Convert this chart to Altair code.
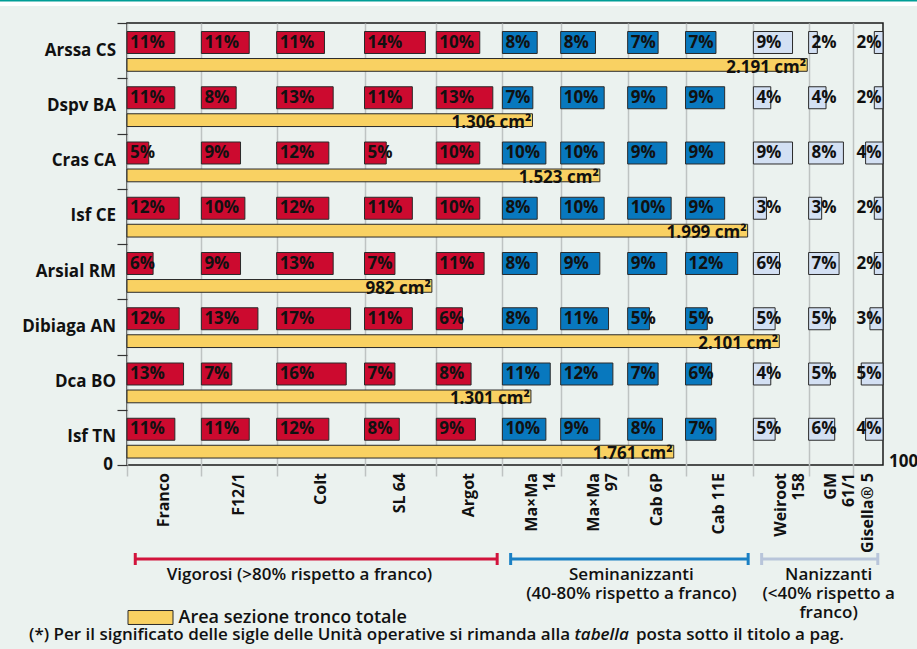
import altair as alt
import pandas as pd

# ---- data -------------------------------------------------------------
sites = ["Arssa CS", "Dspv BA", "Cras CA", "Isf CE",
         "Arsial RM", "Dibiaga AN", "Dca BO", "Isf TN"]

rootstocks = ["Franco", "F12/1", "Colt", "SL 64", "Argot",
              "Ma×Ma\n14", "Ma×Ma\n97", "Cab 6P", "Cab 11E",
              "Weiroot\n158", "GM\n61/1", "Gisella® 5"]

vigour_class = ["Vigorosi"] * 5 + ["Seminanizzanti"] * 4 + ["Nanizzanti"] * 3

# share (%) of each rootstock, one list per site
pct_arssa_cs = [11, 11, 11, 14, 10, 8, 8, 7, 7, 9, 2, 2]
pct_dspv_ba = [11, 8, 13, 11, 13, 7, 10, 9, 9, 4, 4, 2]
pct_cras_ca = [5, 9, 12, 5, 10, 10, 10, 9, 9, 9, 8, 4]
pct_isf_ce = [12, 10, 12, 11, 10, 8, 10, 10, 9, 3, 3, 2]
pct_arsial_rm = [6, 9, 13, 7, 11, 8, 9, 9, 12, 6, 7, 2]
pct_dibiaga_an = [12, 13, 17, 11, 6, 8, 11, 5, 5, 5, 5, 3]
pct_dca_bo = [13, 7, 16, 7, 8, 11, 12, 7, 6, 4, 5, 5]
pct_isf_tn = [11, 11, 12, 8, 9, 10, 9, 8, 7, 5, 6, 4]

# total trunk cross-sectional area per site (cm²)
area_cm2 = [2191, 1306, 1523, 1999, 982, 2101, 1301, 1761]

group_names = ["Vigorosi", "Seminanizzanti", "Nanizzanti"]
group_labels = ["Vigorosi (>80% rispetto a franco)",
                "Seminanizzanti\n(40-80% rispetto a franco)",
                "Nanizzanti\n(<40% rispetto a\nfranco)"]
legend_label = "Area sezione tronco totale"
note_parts = ["(*) Per il significato delle sigle delle Unità operative si rimanda alla",
              "tabella", "posta sotto il titolo a pag."]
scale_ends = ["0", "100"]

# ---- layout & style ---------------------------------------------------
PLOT_W, PLOT_H = 756, 442
FONT = "Open Sans"
COL_WIDTHS = [17.1, 17.3, 20.2, 16.5, 15.2, 13.4, 15.4, 13.3, 15.6, 12.7, 10.3, 6.8]
X_MAX = sum(COL_WIDTHS)
AREA_MAX = 2435
BAR_TOP, BAR_BOT = 0.154, 0.552
AREA_TOP, AREA_BOT = 0.643, 0.874
GROUP_COLORS = {"Vigorosi": "#CC0A2F", "Seminanizzanti": "#0878BE",
                "Nanizzanti": "#D3E0F3"}
BRACKET_COLORS = {"Vigorosi": "#D2143C", "Seminanizzanti": "#1A80C4",
                  "Nanizzanti": "#B8C5DA"}
GROUP_LABEL_SHIFT = {"Vigorosi": -3.5, "Seminanizzanti": 0.8, "Nanizzanti": 2.4}
YELLOW = "#F9D162"
INK = "#111111"

edges = [0.0]
for w in COL_WIDTHS:
    edges.append(edges[-1] + w)

rows = [pct_arssa_cs, pct_dspv_ba, pct_cras_ca, pct_isf_ce,
        pct_arsial_rm, pct_dibiaga_an, pct_dca_bo, pct_isf_tn]

cells = []
for i, site in enumerate(sites):
    for j, v in enumerate(rows[i]):
        last = j == len(rootstocks) - 1
        x0 = edges[j + 1] - v if last else edges[j]
        cells.append({
            "site": site, "rootstock": rootstocks[j], "pct": v,
            "x0": x0, "x1": x0 + v, "lx": edges[j],
            "y0": i + BAR_TOP, "y1": i + BAR_BOT,
            "ly": i + (BAR_TOP + BAR_BOT) / 2,
            "fill": GROUP_COLORS[vigour_class[j]],
            "label": f"{v}%",
        })
cells = pd.DataFrame(cells)

areas = pd.DataFrame({
    "site": sites,
    "area": area_cm2,
    "zero": 0,
    "y0": [i + AREA_TOP for i in range(len(sites))],
    "y1": [i + AREA_BOT for i in range(len(sites))],
    "ly": [i + 0.9 for i in range(len(sites))],
    "label": [f"{a:,}".replace(",", ".") + " cm²" for a in area_cm2],
    "serie": legend_label,
})

site_df = pd.DataFrame({"site": sites,
                        "yc": [i + 0.5 for i in range(len(sites))]})

col_df = pd.DataFrame({"rootstock": rootstocks,
                       "xc": [(edges[j] + edges[j + 1]) / 2 for j in range(len(rootstocks))]})

grp_rows, cap_rows, glab_rows = [], [], []
for g, lab in zip(group_names, group_labels):
    idx = [j for j, c in enumerate(vigour_class) if c == g]
    a, b = edges[idx[0]] + 1.9, edges[idx[-1] + 1] - 1.2
    grp_rows.append({"g": g, "a": a, "b": b, "color": BRACKET_COLORS[g]})
    cap_rows += [{"g": g, "x": a, "color": BRACKET_COLORS[g]},
                 {"g": g, "x": b, "color": BRACKET_COLORS[g]}]
    glab_rows.append({"g": g, "label": lab,
                      "xc": (edges[idx[0]] + edges[idx[-1] + 1]) / 2 + GROUP_LABEL_SHIFT[g]})
grp_df = pd.DataFrame(grp_rows)
cap_df = pd.DataFrame(cap_rows)
glab_df = pd.DataFrame(glab_rows)

# ---- scales & axes ------------------------------------------------------
XS = alt.Scale(domain=[0, X_MAX], nice=False, zero=False)
AS = alt.Scale(domain=[0, AREA_MAX], nice=False, zero=False)
YS = alt.Scale(domain=[0, len(sites)], reverse=True, nice=False, zero=False)

x_axis = alt.Axis(values=edges[:-1], grid=True, gridColor="#BEC3C2", gridWidth=1.5,
                  ticks=True, tickColor="#BEC3C2", tickWidth=1.5, tickSize=11,
                  labels=False, domain=False, title=None)
# one shared left axis: a tick at every row boundary, no labels
y_axis = alt.Axis(values=list(range(len(sites) + 1)), labels=False,
                  ticks=True, tickSize=10, tickColor="#333333", tickWidth=1.2,
                  domain=False, grid=False, title=None)


def Y(field):
    return alt.Y(field, scale=YS, axis=y_axis)


# ---- layers -------------------------------------------------------------
pct_bars = alt.Chart(cells).mark_rect(stroke="#2a2a2a", strokeWidth=1).encode(
    x=alt.X("x0:Q", scale=XS, axis=x_axis),
    x2="x1:Q",
    y=Y("y0:Q"),
    y2="y1:Q",
    fill=alt.Fill("fill:N", scale=None),
)

pct_text = alt.Chart(cells).mark_text(
    align="left", baseline="middle", dx=3, font=FONT, fontSize=17,
    fontWeight=700, color=INK,
).encode(
    x=alt.X("lx:Q", scale=XS, axis=None),
    y=Y("ly:Q"),
    text="label:N",
)

area_bars = alt.Chart(areas).mark_rect(stroke="#2a2a2a", strokeWidth=1).encode(
    x=alt.X("zero:Q", scale=AS, axis=None),
    x2="area:Q",
    y=Y("y0:Q"),
    y2="y1:Q",
    color=alt.Color("serie:N",
                    scale=alt.Scale(domain=[legend_label], range=[YELLOW]),
                    legend=alt.Legend(
                        title=None, orient="none", legendX=0.5, legendY=571.5,
                        symbolType="M-1,-0.31L1,-0.31L1,0.31L-1,0.31Z",
                        symbolSize=2025, symbolStrokeColor="#2a2a2a",
                        symbolStrokeWidth=1, symbolOpacity=1,
                        labelFont=FONT, labelFontSize=18, labelFontWeight=600,
                        labelColor=INK, labelOffset=5, labelLimit=0, padding=0)),
)

area_text = alt.Chart(areas).mark_text(
    align="right", baseline="alphabetic", dx=-1, font=FONT, fontSize=17,
    fontWeight=700, color=INK,
).encode(
    x=alt.X("area:Q", scale=AS, axis=None),
    y=Y("ly:Q"),
    text="label:N",
)

site_text = alt.Chart(site_df).mark_text(
    align="right", baseline="middle", font=FONT, fontSize=17,
    fontWeight=700, color=INK,
).encode(
    x=alt.value(-11),
    y=Y("yc:Q"),
    text="site:N",
)

col_text = alt.Chart(col_df).mark_text(
    align="right", baseline="middle", angle=270, font=FONT, fontSize=16,
    fontWeight=700, color=INK, lineBreak="\n", lineHeight=18,
).encode(
    x=alt.X("xc:Q", scale=XS, axis=None),
    y=alt.value(PLOT_H + 8),
    text="rootstock:N",
)

# end labels of the baseline: 0 on the left axis, 100 past the right frame
zero_label = alt.Chart(pd.DataFrame({"t": [scale_ends[0]], "y": [len(sites)]})).mark_text(
    align="right", baseline="middle", font=FONT, fontSize=17, fontWeight=700,
    color=INK,
).encode(x=alt.value(-14), y=Y("y:Q"), text="t:N")

hundred = alt.Chart(pd.DataFrame({"t": [scale_ends[1]]})).mark_text(
    align="left", baseline="middle", font=FONT, fontSize=17, fontWeight=700,
    color=INK,
).encode(x=alt.value(PLOT_W + 6), y=alt.value(PLOT_H - 3), text="t:N")

brackets = alt.Chart(grp_df).mark_rule(strokeWidth=3).encode(
    x=alt.X("a:Q", scale=XS, axis=None),
    x2="b:Q",
    y=alt.value(536),
    color=alt.Color("color:N", scale=None),
)

caps = alt.Chart(cap_df).mark_rule(strokeWidth=3).encode(
    x=alt.X("x:Q", scale=XS, axis=None),
    y=alt.value(530),
    y2=alt.value(542),
    color=alt.Color("color:N", scale=None),
)

group_text = alt.Chart(glab_df).mark_text(
    align="center", baseline="top", font=FONT, fontSize=17, fontWeight=600,
    color=INK, lineBreak="\n", lineHeight=19,
).encode(
    x=alt.X("xc:Q", scale=XS, axis=None),
    y=alt.value(544),
    text="label:N",
)

# footnote in three runs, the middle one in italics
note_y = 612
note_a = alt.Chart(pd.DataFrame({"t": [note_parts[0]]})).mark_text(
    align="right", baseline="middle", font=FONT, fontSize=17, fontWeight=600, color=INK,
).encode(x=alt.value(443), y=alt.value(note_y), text="t:N")
note_b = alt.Chart(pd.DataFrame({"t": [note_parts[1]]})).mark_text(
    align="left", baseline="middle", font=FONT, fontSize=17, fontWeight=600,
    fontStyle="italic", color=INK,
).encode(x=alt.value(447.5), y=alt.value(note_y), text="t:N")
note_c = alt.Chart(pd.DataFrame({"t": [note_parts[2]]})).mark_text(
    align="left", baseline="middle", font=FONT, fontSize=17, fontWeight=600, color=INK,
).encode(x=alt.value(509), y=alt.value(note_y), text="t:N")

# page header: teal rule over a white strip
header_strip = alt.Chart(pd.DataFrame({"k": [0]})).mark_rect(color="white").encode(
    x=alt.value(-127), x2=alt.value(PLOT_W + 34), y=alt.value(-22), y2=alt.value(-17))
header_rule = alt.Chart(pd.DataFrame({"k": [0]})).mark_rule(color="#009E96", strokeWidth=2).encode(
    x=alt.value(-127), x2=alt.value(PLOT_W + 34), y=alt.value(-22.5))

chart = alt.layer(
    header_strip, header_rule,
    pct_bars, area_bars, pct_text, area_text, site_text, col_text,
    zero_label, hundred, brackets, caps, group_text, note_a, note_b, note_c,
).resolve_scale(x="independent").properties(
    width=PLOT_W, height=PLOT_H,
    autosize=alt.AutoSizeParams(type="none"),
    padding={"left": 127, "top": 23, "right": 34, "bottom": 184},
    background="#EBF2EF",
).configure_view(stroke="#1a1a1a", strokeWidth=1.5, fill=None)

chart.save("out.html", embed_options={"renderer": "svg", "actions": False})
